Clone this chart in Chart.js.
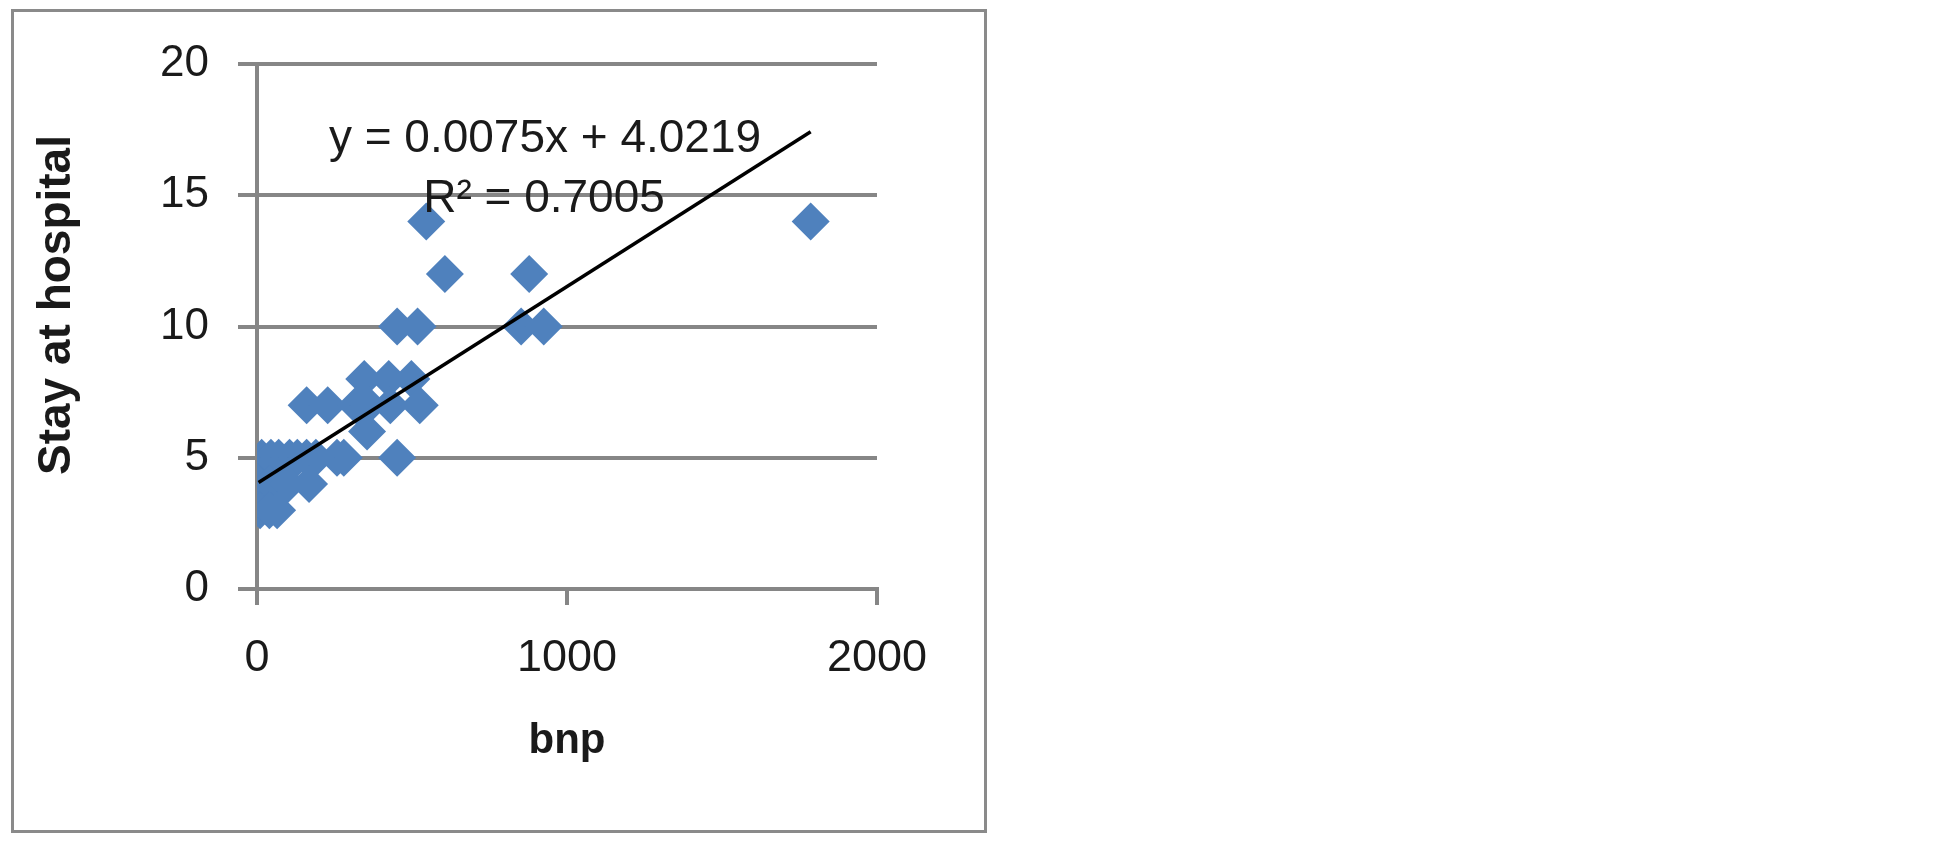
<!DOCTYPE html>
<html lang="en">
<head>
  <meta charset="UTF-8" />
  <title>bnp vs Stay at hospital</title>
  <script src="https://cdn.jsdelivr.net/npm/chart.js"></script>
  <style>
    body {
      margin: 0;
      background: #fff;
      width: 1933px;
      height: 852px;
      overflow: hidden;
    }
    .frame {
      position: absolute;
      left: 11px;
      top: 9px;
      width: 976px;
      height: 824px;
      border: 3px solid #8a8a8a;
      box-sizing: border-box;
    }
    .wrap {
      position: absolute;
      left: 0;
      top: 0;
      width: 1000px;
      height: 852px;
    }
  </style>
</head>
<body>

  <div class="frame"></div>
  <div class="wrap"><canvas id="chart"></canvas></div>

<script>
  // values
  const bnp = [1786, 546, 606, 878, 452, 518, 852, 925,
               346, 425, 498,
               160, 228, 320, 360, 430, 525,
               355,
               452, 258, 280, 15, 45, 70, 105, 130, 160, 190,
               5, 40, 100, 168,
               10, 40, 65];
  const stay = [14, 14, 12, 12, 10, 10, 10, 10,
                8, 8, 8,
                7, 7, 7, 7, 7, 7,
                6,
                5, 5, 5, 5, 5, 5, 5, 5, 5, 5,
                4, 4, 4, 4,
                3, 3, 3];

  const xTicks = [0, 1000, 2000];
  const yTicks = [0, 5, 10, 15, 20];

  // trendline from the printed equation
  const slope = 0.0075;
  const intercept = 4.0219;
  const rSquared = 0.7005;

  const points = bnp.map((x, i) => ({ x: x, y: stay[i] }));
  const xMin = Math.min(...bnp), xMax = Math.max(...bnp);
  const trend = [
    { x: xMin, y: slope * xMin + intercept },
    { x: xMax, y: slope * xMax + intercept }
  ];

  const GRID = "#868686";
  const INK = "#1a1a1a";
  const FONT = "'Liberation Sans', Arial, sans-serif";

  // axis titles and the trendline label
  const labels = {
    id: "labels",
    afterDraw(chart) {
      const ctx = chart.ctx;
      ctx.save();
      ctx.fillStyle = INK;
      ctx.textAlign = "center";
      ctx.textBaseline = "alphabetic";

      ctx.font = "46px " + FONT;
      ctx.fillText("y = " + slope + "x + " + intercept, 545, 152);
      ctx.fillText("R² = " + rSquared, 544, 212);

      ctx.font = "bold 42px " + FONT;
      ctx.fillText("bnp", 567, 753);

      ctx.translate(57, 305);
      ctx.rotate(-Math.PI / 2);
      ctx.font = "bold 46px " + FONT;
      ctx.textBaseline = "middle";
      ctx.fillText("Stay at hospital", 0, 0);
      ctx.restore();
    }
  };

  new Chart(document.getElementById("chart"), {
    type: "scatter",
    data: {
      datasets: [{
        type: "line",
        data: trend,
        borderColor: "#000",
        borderWidth: 3.5,
        pointRadius: 0,
        fill: false
      }, {
        data: points,
        pointStyle: "rectRot",
        pointRadius: 19,
        pointHoverRadius: 19,
        backgroundColor: "#4f81bd",
        borderWidth: 0
      }]
    },
    options: {
      responsive: true,
      maintainAspectRatio: false,
      animation: false,
      events: [],
      layout: { padding: { top: 64, right: 123, bottom: 0, left: 0 } },
      plugins: {
        legend: { display: false },
        tooltip: { enabled: false }
      },
      scales: {
        x: {
          type: "linear",
          min: xTicks[0],
          max: xTicks[xTicks.length - 1],
          afterBuildTicks: s => { s.ticks = xTicks.map(v => ({ value: v })); },
          afterFit: s => { s.height = 263; },
          grid: { drawOnChartArea: false, color: GRID, lineWidth: 4, tickLength: 16 },
          border: { color: GRID, width: 4 },
          ticks: { color: INK, padding: 27, font: { family: FONT, size: 45 }, callback: v => String(v) }
        },
        y: {
          min: yTicks[0],
          max: yTicks[yTicks.length - 1],
          afterBuildTicks: s => { s.ticks = yTicks.map(v => ({ value: v })); },
          afterFit: s => { s.width = 257; },
          grid: { color: GRID, lineWidth: 4, tickLength: 19 },
          border: { color: GRID, width: 4 },
          ticks: { color: INK, padding: 29, font: { family: FONT, size: 44 }, callback: v => String(v) }
        }
      }
    },
    plugins: [labels]
  });
</script>

</body>
</html>
